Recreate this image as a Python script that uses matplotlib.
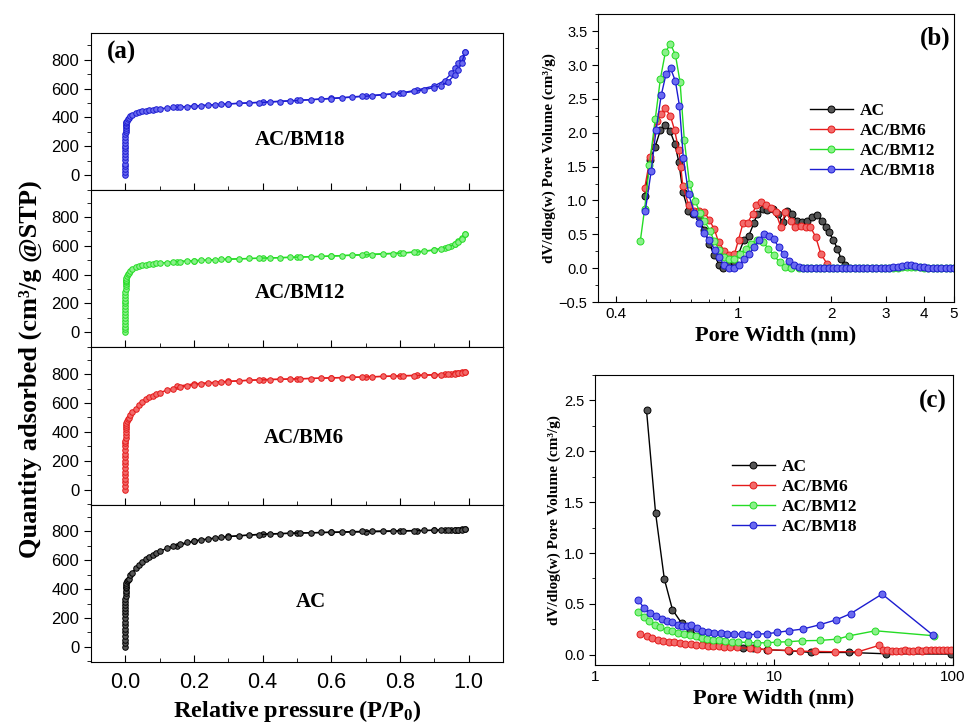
import numpy as np
import matplotlib
matplotlib.use('Agg')
import matplotlib.pyplot as plt
from matplotlib.ticker import MultipleLocator, FixedLocator, NullFormatter, FixedFormatter

plt.rcParams['font.family'] = ['Liberation Sans', 'DejaVu Sans']
plt.rcParams['mathtext.fontset'] = 'custom'
plt.rcParams['mathtext.rm'] = 'Liberation Serif:bold'
plt.rcParams['mathtext.it'] = 'Liberation Serif:bold'
plt.rcParams['mathtext.bf'] = 'Liberation Serif:bold'

names = ['AC', 'AC/BM6', 'AC/BM12', 'AC/BM18']
colors = ['#000000', '#e41b1b', '#25dc25', '#1c1cd0']
faces = ['#555555', '#f26a6a', '#8af08a', '#6a6af0']

# (a) N2 isotherms, adsorption branch
p_ads = [0, 0.00001, 0.00002, 0.00003, 0.00004, 0.00006, 0.00008, 0.0001, 0.00013, 0.00016,
         0.0002, 0.00025, 0.0003, 0.0004, 0.0005, 0.0006, 0.0008, 0.001, 0.0013, 0.0016,
         0.002, 0.003, 0.005, 0.007,
         0.01, 0.015, 0.02, 0.03, 0.04, 0.05, 0.06,
         0.07, 0.08, 0.09, 0.10, 0.12, 0.14, 0.16, 0.18, 0.20, 0.22,
         0.24, 0.26, 0.28, 0.30, 0.33, 0.36, 0.39, 0.42, 0.45, 0.48,
         0.51, 0.54, 0.57, 0.60, 0.63, 0.66, 0.69, 0.72, 0.75, 0.78,
         0.81, 0.84, 0.87, 0.90, 0.92, 0.94, 0.96, 0.97, 0.98, 0.99]
q_ac = [0, 25, 50, 75, 100, 125, 150, 175, 200, 225,
        250, 270, 290, 310, 330, 350, 370, 390, 405, 418,
        430, 445, 458, 466,
        472, 495, 515, 545, 568, 590, 610,
        625, 640, 652, 662, 682, 698, 712, 724, 733, 741,
        748, 754, 759, 764, 769, 774, 778, 781, 784, 787,
        789, 791, 793, 795, 797, 799, 800, 802, 803, 804,
        805, 806, 807, 808, 809, 810, 811, 812, 813, 815]
q_bm6 = [0, 25, 50, 75, 100, 125, 150, 175, 200, 225,
         250, 275, 300, 320, 340, 360, 380, 400, 418, 432,
         445, 462, 478, 488,
         495, 520, 535, 560, 585, 605, 625,
         640, 652, 662, 672, 688, 700, 710, 718, 726, 732,
         737, 742, 746, 749, 753, 757, 760, 762, 764, 766,
         768, 770, 772, 774, 776, 778, 780, 782, 784, 786,
         788, 790, 792, 795, 797, 800, 803, 806, 810, 818]
q_bm12 = [0, 20, 40, 60, 80, 100, 120, 140, 160, 180,
          200, 220, 240, 260, 280, 300, 318, 333, 346, 357,
          366, 378, 392, 402,
          412, 428, 438, 450, 458, 464, 468,
          472, 475, 478, 480, 484, 488, 491, 494, 497, 499,
          501, 503, 505, 507, 510, 512, 514, 516, 518, 520,
          522, 524, 526, 528, 531, 534, 536, 539, 542, 546,
          550, 555, 561, 570, 578, 590, 610, 625, 645, 685]
q_bm18 = [0, 20, 40, 60, 80, 105, 125, 145, 165, 185,
          205, 225, 245, 265, 285, 300, 315, 328, 340, 350,
          358, 368, 378, 386,
          395, 408, 417, 428, 436, 441, 446,
          450, 454, 457, 460, 465, 469, 472, 475, 478, 481,
          484, 487, 490, 493, 497, 500, 503, 506, 510, 514,
          518, 522, 526, 530, 535, 540, 545, 550, 556, 562,
          570, 580, 592, 607, 620, 648, 695, 728, 780, 850]

# desorption branch
p_des = [0.99, 0.98, 0.97, 0.96, 0.95, 0.93, 0.90, 0.85, 0.80, 0.70, 0.60, 0.50, 0.40, 0.30, 0.20, 0.15]
d_ac = [815, 814, 813, 812, 811, 810, 808, 805, 802, 797, 793, 789, 782, 765, 734, 698]
d_bm6 = [818, 812, 808, 805, 803, 800, 797, 793, 789, 781, 775, 768, 763, 751, 733, 716]
d_bm12 = [685, 655, 630, 612, 600, 588, 572, 558, 550, 540, 529, 521, 514, 507, 497, 490]
d_bm18 = [850, 815, 780, 745, 705, 655, 618, 590, 568, 549, 532, 518, 506, 494, 479, 471]

# (b) micropore distribution
wb_ac = [0.496, 0.517, 0.536, 0.558, 0.579, 0.599, 0.621, 0.640, 0.660, 0.687,
         0.714, 0.743, 0.774, 0.804, 0.834, 0.866, 0.892, 0.930, 0.970, 1.00,
         1.04, 1.08, 1.12, 1.15, 1.20, 1.24, 1.29, 1.34, 1.39, 1.44,
         1.49, 1.55, 1.61, 1.67, 1.73, 1.80, 1.86, 1.92, 1.96, 2.03,
         2.09, 2.15, 2.22]
vb_ac = [1.07, 1.60, 1.79, 2.04, 2.11, 2.03, 1.84, 1.57, 1.12, 0.85,
         0.80, 0.75, 0.56, 0.36, 0.19, 0.05, 0.0, 0.06, 0.09, 0.21,
         0.41, 0.48, 0.66, 0.80, 0.88, 0.86, 0.88, 0.80, 0.68, 0.84,
         0.80, 0.70, 0.68, 0.70, 0.75, 0.78, 0.70, 0.61, 0.53, 0.42,
         0.29, 0.14, 0.04]
wb_bm6 = [0.496, 0.517, 0.543, 0.561, 0.579, 0.601, 0.620, 0.640, 0.650, 0.659,
          0.689, 0.719, 0.746, 0.775, 0.804, 0.834, 0.862, 0.899, 0.933, 0.970,
          1.00, 1.035, 1.07, 1.11, 1.14, 1.18, 1.23, 1.27, 1.32, 1.37,
          1.42, 1.48, 1.53, 1.59, 1.65, 1.71, 1.78, 1.85, 1.94]
vb_bm6 = [1.18, 1.64, 2.18, 2.27, 2.36, 2.25, 2.04, 1.74, 1.49, 1.22,
          0.93, 0.85, 0.85, 0.83, 0.71, 0.58, 0.38, 0.26, 0.19, 0.21,
          0.42, 0.67, 0.67, 0.80, 0.93, 0.97, 0.94, 0.89, 0.83, 0.61,
          0.83, 0.70, 0.61, 0.62, 0.61, 0.61, 0.46, 0.21, 0.06]
wb_bm12 = [0.480, 0.496, 0.514, 0.537, 0.558, 0.579, 0.601, 0.624, 0.646, 0.667,
           0.693, 0.723, 0.750, 0.775, 0.808, 0.834, 0.866, 0.899, 0.933, 0.968,
           1.01, 1.056, 1.10, 1.15, 1.20, 1.25, 1.30, 1.36, 1.42, 1.48]
vb_bm12 = [0.40, 0.88, 1.52, 2.21, 2.80, 3.19, 3.31, 3.15, 2.75, 1.89,
           1.25, 0.99, 0.82, 0.70, 0.55, 0.40, 0.27, 0.16, 0.14, 0.14,
           0.21, 0.29, 0.36, 0.41, 0.385, 0.29, 0.19, 0.09, 0.02, 0.0]
wb_bm18 = [0.498, 0.521, 0.540, 0.561, 0.582, 0.602, 0.624, 0.643, 0.662, 0.689,
           0.719, 0.746, 0.775, 0.804, 0.838, 0.866, 0.899, 0.933, 0.968, 1.005,
           1.043, 1.083, 1.124, 1.166, 1.21, 1.256, 1.30, 1.35, 1.40, 1.46, 1.51]
vb_bm18 = [0.84, 1.44, 2.04, 2.55, 2.87, 2.95, 2.76, 2.40, 1.63, 1.09,
           0.82, 0.66, 0.52, 0.41, 0.27, 0.16, 0.04, 0.0, 0.0, 0.04,
           0.14, 0.21, 0.31, 0.42, 0.51, 0.48, 0.43, 0.31, 0.21, 0.11, 0.04]
# flat tail beyond ~1.5 nm
w_tail = [1.57, 1.62, 1.67, 1.72, 1.78, 1.84, 1.90, 1.96, 2.02, 2.09,
          2.16, 2.23, 2.30, 2.38, 2.46, 2.54, 2.62, 2.71, 2.80, 2.89,
          2.98, 3.08, 3.18, 3.29, 3.40, 3.51, 3.62, 3.74, 3.87, 4.00,
          4.13, 4.27, 4.41, 4.55, 4.70, 4.86, 5.0]
tail_bm12 = [0, 0, 0, 0, 0, 0, 0, 0, 0, 0,
             0, 0, 0, 0, 0, 0, 0, 0, 0, 0,
             0, 0, 0, 0, 0.01, 0.01, 0.01, 0.01, 0.01, 0,
             0, 0, 0, 0, 0, 0, 0]
tail_bm18 = [0.01, 0, 0, 0, 0, 0, 0, 0, 0, 0,
             0, 0, 0, 0, 0, 0, 0, 0, 0, 0,
             0, 0, 0.01, 0.02, 0.03, 0.04, 0.04, 0.03, 0.02, 0.01,
             0, 0, 0, 0, 0, 0, 0]

# (c) meso/macropore distribution
wc_ac = [1.94, 2.18, 2.44, 2.71, 3.05, 3.39, 3.82, 4.29, 5.2, 6.7, 7.6, 9.1, 12.2, 16.1, 26.2, 42, 97.6]
vc_ac = [2.405, 1.394, 0.745, 0.443, 0.31, 0.246, 0.18, 0.13, 0.09, 0.065, 0.062, 0.05, 0.04, 0.023, 0.023, 0.01, 0.007]
wc_bm6 = [1.78, 1.94, 2.09, 2.24, 2.41, 2.59, 2.77, 2.98, 3.2, 3.43,
          3.69, 3.97, 4.26, 4.58, 4.92, 5.27, 5.66, 6.2, 7.3, 8.0,
          9.3, 12, 14, 16.9, 21.8, 29.5, 38.6, 40.7,
          43, 45.5, 48, 51, 54, 57, 60, 63.5, 67, 71, 75, 79, 83.5, 88, 93, 98]
vc_bm6 = [0.203, 0.18, 0.164, 0.148, 0.138, 0.128, 0.121, 0.115, 0.108, 0.105,
          0.098, 0.092, 0.089, 0.085, 0.082, 0.079, 0.075, 0.072, 0.062, 0.059,
          0.05, 0.043, 0.036, 0.033, 0.03, 0.03, 0.092, 0.05,
          0.045, 0.04, 0.04, 0.04, 0.045, 0.04, 0.04, 0.045, 0.04, 0.045, 0.045, 0.045, 0.045, 0.045, 0.045, 0.045]
wc_bm12 = [1.745, 1.88, 2.01, 2.16, 2.32, 2.51, 2.7, 2.92, 3.14, 3.39,
           3.65, 3.94, 4.24, 4.58, 4.94, 5.32, 5.8, 6.3, 7.2, 8.0,
           9.1, 10.4, 12, 14.3, 18, 22.6, 26.4, 36.9, 78.5]
vc_bm12 = [0.42, 0.367, 0.328, 0.295, 0.269, 0.246, 0.23, 0.213, 0.2, 0.194,
           0.18, 0.164, 0.154, 0.148, 0.141, 0.131, 0.128, 0.125, 0.121, 0.118,
           0.118, 0.125, 0.128, 0.138, 0.141, 0.154, 0.187, 0.236, 0.187]
wc_bm18 = [1.745, 1.88, 2.03, 2.18, 2.36, 2.51, 2.71, 2.92, 3.07, 3.25,
           3.46, 3.72, 3.97, 4.29, 4.62, 5.03, 5.46, 5.96, 6.6, 7.2,
           8.0, 9.1, 10.4, 12.1, 14.5, 18, 22.3, 26.8, 40.2, 77.7]
vc_bm18 = [0.535, 0.46, 0.41, 0.377, 0.354, 0.335, 0.318, 0.295, 0.279, 0.279,
           0.289, 0.262, 0.23, 0.22, 0.213, 0.21, 0.207, 0.203, 0.203, 0.197,
           0.203, 0.207, 0.22, 0.236, 0.253, 0.295, 0.344, 0.404, 0.597, 0.19]

serif_b = dict(family='Liberation Serif', weight='bold')

fig = plt.figure(figsize=(9.7, 7.25), dpi=100)

# ---- panel (a): four stacked isotherms
ads = [q_bm18, q_bm12, q_bm6, q_ac]
des = [d_bm18, d_bm12, d_bm6, d_ac]
order = [3, 2, 1, 0]
txt_pos = [(0.51, 243), (0.51, 271), (0.52, 355), (0.54, 313)]
h = 0.2169
for k in range(4):
    ax = fig.add_axes([0.0938, 0.0869 + (3 - k) * h, 0.4247, h])
    c = order[k]
    ax.plot(p_des, des[k], '-o', color=colors[c], mfc=faces[c], mec=colors[c],
            ms=4, mew=0.7, lw=1)
    ax.plot(p_ads, ads[k], '-o', color=colors[c], mfc=faces[c], mec=colors[c],
            ms=4, mew=0.7, lw=1)
    ax.set_xlim(-0.1, 1.1)
    ax.set_ylim(-105, 985)
    ax.set_yticks([0, 200, 400, 600, 800])
    ax.yaxis.set_minor_locator(MultipleLocator(100))
    ax.xaxis.set_major_locator(MultipleLocator(0.2))
    ax.xaxis.set_minor_locator(MultipleLocator(0.1))
    ax.tick_params(axis='y', which='both', direction='out', labelsize=12)
    ax.tick_params(axis='y', which='major', length=5)
    ax.tick_params(axis='y', which='minor', length=3)
    ax.tick_params(axis='x', which='both', direction='in', labelsize=15.5, pad=7.5)
    ax.tick_params(axis='x', which='major', length=5)
    ax.tick_params(axis='x', which='minor', length=3)
    if k < 3:
        ax.tick_params(axis='x', labelbottom=False)
    else:
        ax.set_xlabel('Relative pressure (P/P$_0$)', fontsize=17.5, labelpad=3, **serif_b)
    ax.text(txt_pos[k][0], txt_pos[k][1], names[c], ha='center', va='center',
            fontsize=15, **serif_b)
    if k == 0:
        ax.text(-0.055, 847, '(a)', ha='left', va='center', fontsize=18, **serif_b)
fig.text(0.031, 0.491, 'Quantity adsorbed (cm³/g @STP)', rotation=90,
         ha='center', va='center', fontsize=19, **serif_b)

# ---- panel (b)
axb = fig.add_axes([0.6165, 0.5834, 0.367, 0.397])
wb = [wb_ac, wb_bm6, wb_bm12 + w_tail, wb_bm18 + w_tail]
vb = [vb_ac, vb_bm6, vb_bm12 + tail_bm12, vb_bm18 + tail_bm18]
for i in range(4):
    axb.plot(wb[i], vb[i], '-o', color=colors[i], mfc=faces[i], mec=colors[i],
             ms=5, mew=0.7, lw=1, label=names[i])
axb.set_xscale('log')
axb.set_xlim(0.35, 5)
axb.set_ylim(-0.5, 3.75)
axb.xaxis.set_major_locator(FixedLocator([0.4, 1, 2, 3, 4, 5]))
axb.xaxis.set_major_formatter(FixedFormatter(['0.4', '1', '2', '3', '4', '5']))
axb.xaxis.set_minor_locator(FixedLocator([0.5, 0.6, 0.7, 0.8, 0.9]))
axb.xaxis.set_minor_formatter(NullFormatter())
axb.yaxis.set_major_locator(MultipleLocator(0.5))
axb.yaxis.set_minor_locator(MultipleLocator(0.25))
axb.tick_params(axis='x', which='both', direction='in', labelsize=11)
axb.tick_params(axis='y', which='both', direction='out', labelsize=10.5)
axb.tick_params(which='major', length=4)
axb.tick_params(which='minor', length=2.5)
axb.set_xlabel('Pore Width (nm)', fontsize=16, labelpad=3, **serif_b)
axb.set_ylabel('dV/dlog(w) Pore Volume (cm³/g)', fontsize=11, labelpad=2, **serif_b)
axb.text(0.989, 0.917, '(b)', transform=axb.transAxes, ha='right', va='center',
         fontsize=18, **serif_b)
axb.legend(loc='upper left', bbox_to_anchor=(0.575, 0.715), frameon=False,
           handlelength=2.5, handletextpad=0.4, labelspacing=0.22, borderaxespad=0,
           prop=dict(family='Liberation Serif', weight='bold', size=12.5))

# ---- panel (c)
axc = fig.add_axes([0.6134, 0.0828, 0.369, 0.40])
wc = [wc_ac, wc_bm6, wc_bm12, wc_bm18]
vc = [vc_ac, vc_bm6, vc_bm12, vc_bm18]
for i in range(4):
    axc.plot(wc[i], vc[i], '-o', color=colors[i], mfc=faces[i], mec=colors[i],
             ms=5, mew=0.7, lw=1, label=names[i])
axc.set_xscale('log')
axc.set_xlim(1, 100)
axc.set_ylim(-0.1, 2.75)
axc.set_xticks([1, 10, 100])
axc.set_xticklabels(['1', '10', '100'])
axc.yaxis.set_major_locator(MultipleLocator(0.5))
axc.yaxis.set_minor_locator(MultipleLocator(0.25))
axc.xaxis.set_minor_formatter(NullFormatter())
axc.tick_params(axis='x', which='both', direction='in', labelsize=11)
axc.tick_params(axis='y', which='both', direction='out', labelsize=10.5)
axc.tick_params(which='major', length=4)
axc.tick_params(which='minor', length=2.5)
axc.set_xlabel('Pore Width (nm)', fontsize=16, labelpad=3, **serif_b)
axc.set_ylabel('dV/dlog(w) Pore Volume (cm³/g)', fontsize=11, labelpad=2, **serif_b)
axc.text(0.983, 0.907, '(c)', transform=axc.transAxes, ha='right', va='center',
         fontsize=18, **serif_b)
axc.legend(loc='upper left', bbox_to_anchor=(0.362, 0.735), frameon=False,
           handlelength=2.5, handletextpad=0.4, labelspacing=0.22, borderaxespad=0,
           prop=dict(family='Liberation Serif', weight='bold', size=12.5))

fig.savefig('out.png', dpi=100)
